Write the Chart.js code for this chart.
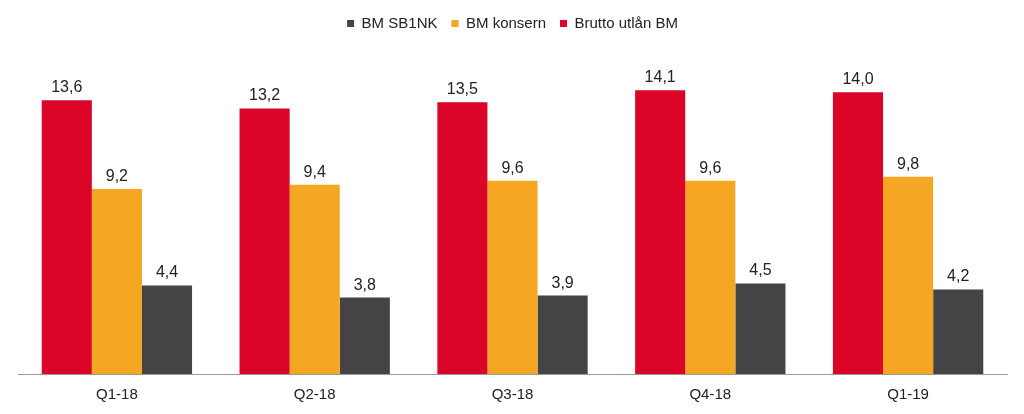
<!DOCTYPE html>
<html>
<head>
<meta charset="utf-8">
<script src="https://cdn.jsdelivr.net/npm/chart.js@4/dist/chart.umd.min.js"></script>
<style>
  html, body { margin: 0; padding: 0; background: #fff; }
  #wrap { width: 1024px; height: 414px; position: relative; }
</style>
</head>
<body>
<div id="wrap"><canvas id="chart"></canvas></div>
<script>
// Data
const quarters = ["Q1-18", "Q2-18", "Q3-18", "Q4-18", "Q1-19"];
const bruttoUtlanBM = [13.6, 13.2, 13.5, 14.1, 14.0];
const bmKonsern = [9.2, 9.4, 9.6, 9.6, 9.8];
const bmSB1NK = [4.4, 3.8, 3.9, 4.5, 4.2];

const FONT = "'Liberation Sans', Arial, sans-serif";

// Value labels above each bar, with comma decimals
const valueLabels = {
  id: "valueLabels",
  afterDatasetsDraw(chart) {
    const ctx = chart.ctx;
    ctx.save();
    ctx.font = "16px " + FONT;
    ctx.fillStyle = "#222222";
    ctx.textAlign = "center";
    ctx.textBaseline = "alphabetic";
    chart.data.datasets.forEach((ds, i) => {
      chart.getDatasetMeta(i).data.forEach((bar, j) => {
        const txt = ds.data[j].toFixed(1).replace(".", ",");
        ctx.fillText(txt, bar.x, bar.y - 8);
      });
    });
    ctx.restore();
  },
};

const ctx = document.getElementById("chart");
new Chart(ctx, {
  type: "bar",
  data: {
    labels: quarters,
    datasets: [
      {
        label: "Brutto utlån BM",
        data: bruttoUtlanBM,
        backgroundColor: "#DA0527",
      },
      {
        label: "BM konsern",
        data: bmKonsern,
        backgroundColor: "#F5A623",
      },
      {
        label: "BM SB1NK",
        data: bmSB1NK,
        backgroundColor: "#444444",
      },
    ],
  },
  options: {
    responsive: true,
    maintainAspectRatio: false,
    animation: false,
    layout: {
      padding: { left: 18, right: 17, top: 2, bottom: -2 },
    },
    plugins: {
      legend: {
        reverse: true,
        labels: {
          boxWidth: 7,
          boxHeight: 7,
          padding: 14,
          color: "#222222",
          font: { size: 15, family: FONT },
        },
      },
      tooltip: { enabled: false },
    },
    scales: {
      x: {
        grid: { display: false, drawTicks: false },
        border: { color: "#999999", width: 1 },
        ticks: {
          color: "#222222",
          padding: 12,
          font: { size: 15, family: FONT },
        },
      },
      y: {
        display: false,
        min: 0,
        max: 16.55,
      },
    },
    datasets: {
      bar: {
        categoryPercentage: 0.76,
        barPercentage: 1,
      },
    },
  },
  plugins: [valueLabels],
});
</script>
</body>
</html>
